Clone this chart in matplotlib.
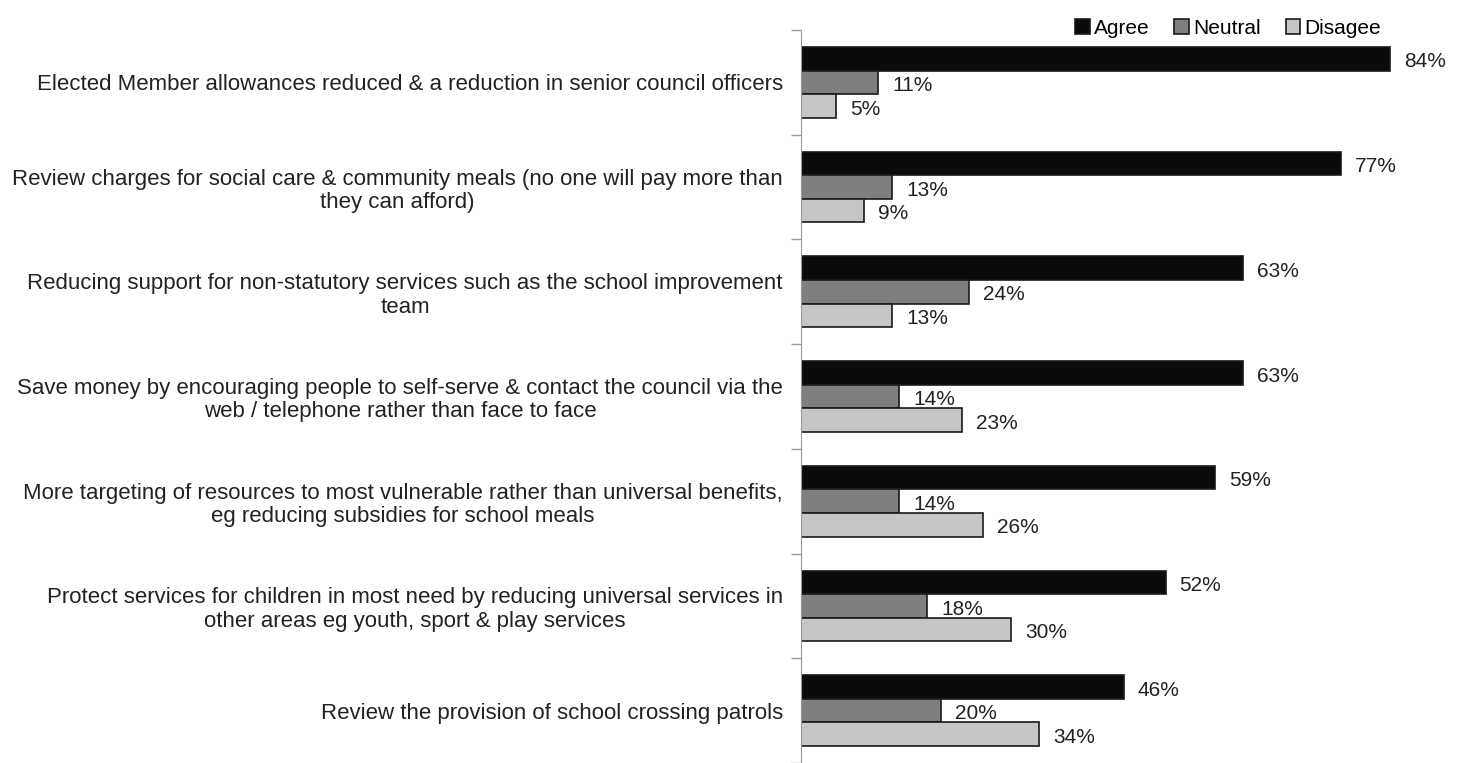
import matplotlib.pyplot as plt
import numpy as np

categories = [
    "Elected Member allowances reduced & a reduction in senior council officers",
    "Review charges for social care & community meals (no one will pay more than\nthey can afford)",
    "Reducing support for non-statutory services such as the school improvement\nteam",
    "Save money by encouraging people to self-serve & contact the council via the\nweb / telephone rather than face to face",
    "More targeting of resources to most vulnerable rather than universal benefits,\neg reducing subsidies for school meals",
    "Protect services for children in most need by reducing universal services in\nother areas eg youth, sport & play services",
    "Review the provision of school crossing patrols",
]
agree = [84, 77, 63, 63, 59, 52, 46]
neutral = [11, 13, 24, 14, 14, 18, 20]
disagree = [5, 9, 13, 23, 26, 30, 34]
series_names = ["Agree", "Neutral", "Disagee"]

plt.rcParams['font.family'] = ['Liberation Sans', 'DejaVu Sans']

fig = plt.figure(figsize=(14.64, 7.63), dpi=100)
ax = fig.add_axes([801 / 1464, 0.0, 631 / 1464, 733 / 763])

y = np.arange(len(categories))
h = 0.225
colors = ["#0b0b0b", "#7f7f7f", "#c6c6c6"]
for i, (vals, name) in enumerate(zip([agree, neutral, disagree], series_names)):
    pos = y + (i - 1) * h
    ax.barh(pos, vals, height=h, color=colors[i], edgecolor="#1a1a1a",
            linewidth=1.2, label=name)
    for p, v in zip(pos, vals):
        ax.text(v + 2.0, p + 0.03, f"{v}%", va="center", ha="left",
                fontsize=15, color="#222222")

ax.set_xlim(0, 90)
ax.set_ylim(len(categories) - 0.5, -0.5)
ax.set_yticks(y)
ax.set_yticklabels(categories, fontsize=16, color="#222222", linespacing=1.15)
for lab in ax.get_yticklabels():
    lab.set_multialignment("center")
ax.tick_params(axis="y", which="major", length=0, pad=13)
ax.set_yticks(np.arange(-0.5, len(categories), 1), minor=True)
ax.tick_params(axis="y", which="minor", length=7, color="#999999", width=1)
ax.set_xticks([])
for s in ["top", "right", "bottom"]:
    ax.spines[s].set_visible(False)
ax.spines["left"].set_color("#999999")

fig.legend(loc="upper right", bbox_to_anchor=(1400 / 1464, 1.0), ncol=3,
           frameon=False, fontsize=15, handlelength=0.7, handleheight=0.7,
           handletextpad=0.2, columnspacing=1.2)

fig.savefig("out.png", dpi=100)
